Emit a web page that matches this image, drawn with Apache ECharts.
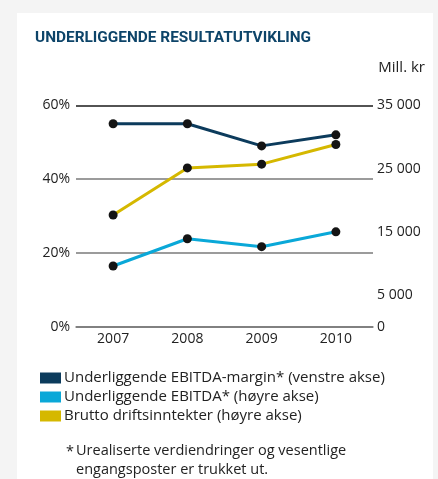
<!DOCTYPE html>
<html>
<head>
<meta charset="utf-8">
<script src="https://cdn.jsdelivr.net/npm/echarts@6/dist/echarts.min.js"></script>
<style>
  html, body { margin: 0; padding: 0; background: #f4f4f4; }
  #chart { width: 438px; height: 479px; }
</style>
</head>
<body>
<div id="chart"></div>
<script>
//Données
const years = ['2007', '2008', '2009', '2010'];
const ebitdaMargin = [55, 55, 49, 52];            // % (venstre akse)
const ebitda = [9600, 13900, 12650, 15000];       // Mill. kr (høyre akse)
const bruttoInntekter = [17650, 25100, 25700, 28800]; // Mill. kr (høyre akse)
const rightLabels = [0, 5000, 15000, 25000, 35000];

const seriesNames = [
  'Underliggende EBITDA-margin* (venstre akse)',
  'Underliggende EBITDA* (høyre akse)',
  'Brutto driftsinntekter (høyre akse)'
];
const colors = ['#0c3b5c', '#0aa8d8', '#d5b800'];

const font = '"Open Sans", sans-serif';
const chart = echarts.init(document.getElementById('chart'));

const fmtThousands = v => String(v).replace(/\B(?=(\d{3})+(?!\d))/g, ' ');

chart.setOption({
  backgroundColor: '#f4f4f4',
  textStyle: { fontFamily: font },
  grid: { left: 76, right: 65, top: 105.3, bottom: 152.3 },
  graphic: [
    { type: 'rect', z: -10, shape: { x: 17, y: 13, width: 416, height: 470 }, style: { fill: '#fff' } },
    { type: 'text', left: 35, top: 31, style: { text: 'UNDERLIGGENDE RESULTATUTVIKLING', fill: '#0d4469', font: 'bold 15.4px Roboto' } },
    { type: 'text', right: 13, top: 60, style: { text: 'Mill. kr', fill: '#222', font: '15px ' + font } },
    { type: 'text', left: 66, top: 444, style: { text: '*', fill: '#222', font: '14.5px ' + font } },
    { type: 'text', left: 76, top: 441, style: { text: 'Urealiserte verdiendringer og vesentlige\nengangsposter er trukket ut.', fill: '#222', font: '14.5px ' + font, lineHeight: 19.5 } }
  ],
  legend: {
    orient: 'vertical',
    left: 35,
    top: 365.5,
    itemWidth: 21,
    itemHeight: 11,
    itemGap: 4,
    icon: 'rect',
    selectedMode: false,
    textStyle: { fontSize: 15, color: '#222', lineHeight: 15, padding: [0, 0, 0, -2] },
    data: seriesNames.map((n, i) => ({ name: n, itemStyle: { color: colors[i] } }))
  },
  xAxis: {
    type: 'category',
    data: years,
    boundaryGap: true,
    axisLine: { lineStyle: { color: '#7a7a7a', width: 1.5 } },
    axisTick: { show: false },
    axisLabel: { color: '#222', fontSize: 14, margin: 5 }
  },
  yAxis: [
    {
      type: 'value',
      min: 0, max: 60, interval: 20,
      axisLine: { show: false },
      axisTick: { show: false },
      axisLabel: { color: '#222', fontSize: 14, margin: 6, formatter: '{value}%' },
      splitLine: { lineStyle: { color: ['#7a7a7a', '#7a7a7a', '#7a7a7a', '#1a1a1a'], width: 1.5 } }
    },
    {
      type: 'value',
      min: 0, max: 35000, interval: 5000,
      axisLine: { show: false },
      axisTick: { show: false },
      splitLine: { show: false },
      axisLabel: {
        color: '#222', fontSize: 14, margin: 4,
        formatter: v => rightLabels.includes(v) ? fmtThousands(v) : ''
      }
    }
  ],
  series: [
    {
      name: seriesNames[0], type: 'line', yAxisIndex: 0, data: ebitdaMargin,
      symbol: 'circle', symbolSize: 9,
      lineStyle: { color: colors[0], width: 3 },
      itemStyle: { color: '#141414' }
    },
    {
      name: seriesNames[1], type: 'line', yAxisIndex: 1, data: ebitda,
      symbol: 'circle', symbolSize: 9,
      lineStyle: { color: colors[1], width: 3 },
      itemStyle: { color: '#141414' }
    },
    {
      name: seriesNames[2], type: 'line', yAxisIndex: 1, data: bruttoInntekter,
      symbol: 'circle', symbolSize: 9,
      lineStyle: { color: colors[2], width: 3 },
      itemStyle: { color: '#141414' }
    }
  ]
});
</script>
</body>
</html>
